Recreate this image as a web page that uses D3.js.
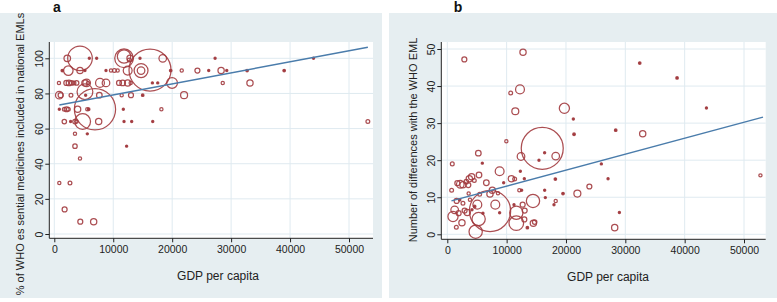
<!DOCTYPE html>
<html><head><meta charset="utf-8">
<script src="https://cdn.jsdelivr.net/npm/d3@7"></script>
<style>
body{margin:0;background:#fff;}
svg{display:block;font-family:"Liberation Sans",Arial,sans-serif;}
</style></head>
<body>
<svg id="chart" width="777" height="302"></svg>
<script>
// ---------- DATA ----------
const xTicks = [0, 10000, 20000, 30000, 40000, 50000];
const yTicksA = [0, 20, 40, 60, 80, 100];
const yTicksB = [0, 10, 20, 30, 40, 50];

// Panel a: GDP per capita, % of WHO EMs included, bubble weight
const gdpA = [2200,4360,5940,7190,11830,11830,12850,12730,14540,18400,27280,43980,
  1360,2380,4360,5200,8770,9620,10190,10750,12450,14720,14720,16240,19750,21620,24280,26200,28300,29260,32710,39000,
  790,2040,2490,2940,3340,3790,5200,5490,5720,7750,8770,10980,11600,12450,12960,16640,17550,19980,28580,33200,
  850,1070,2830,5320,7640,11430,13010,15000,22020,5200,
  850,1700,2090,2380,3960,5600,5830,6900,11710,18170,
  1700,2770,3510,3790,4810,7530,11830,13130,16700,53200,
  3510,5600,3510,12270,4360,850,2660,1750,4410,6680];
const pctA = [100,100,100,100,100,101,100,99,100,100,100,100,
  93,93,93,93,93,93,93,93,93,93,93,93.3,93,93,93,93,93,93,93,93,
  86,86,86,86,86,86,86,86,86,86,86,86,86,86,86,86,86,86,86,86,
  79,79,79,79,79,79,79,79,79,81,
  71,71,71,71,71,71,71,71,71,71,
  64,64,64,64,64,64,64,64,64,64,
  57,57,50,50,43,29,29,14,7,7];
const sizeA = [33,463,2,2,265,137,30,11,3,44,3,2,
  5,69,30,3,3,8,11,8,60,148,44,1350,5,8,19,2,30,2,5,5,
  8,19,24,15,11,15,30,44,8,60,44,19,24,30,8,2,2,89,8,30,
  44,19,11,3,24,8,19,5,37,190,
  3,11,19,11,30,8,5,1300,2,8,
  15,3,15,8,190,30,2,2,2,11,
  8,3,15,3,8,8,11,19,19,30];
const fitGdpA = [850, 53200];
const fitValA = [73.4, 106.3];

// Panel b: GDP per capita, number of differences with WHO EML, bubble weight
const gdpB = [2870,12760,32430,38720,43670,10680,12250,11460,19730,21240,21360,28380,32930,9950,16000,
  5230,12420,16400,18270,15450,840,5900,25960,8820,12310,27090,18210,52770,10790,11350,12980,
  5340,3710,4100,3200,4550,6580,1690,2190,2640,3540,23940,9500,12140,12530,16410,730,7590,8540,
  19500,21920,3600,5450,7190,16520,14440,8090,17980,18270,12700,11240,5060,7200,1240,1910,2920,
  3370,960,11630,13040,8820,29000,2470,5280,12980,11630,14500,14720,13490,1520,28210,4780,6010,
  2080,2640,3820,1570,4610,4160];
const diffB = [47.2,49.1,46.2,42.2,34.1,38.1,39.1,33.2,34.0,31.1,27.0,28.1,27.1,25.1,23.2,
  21.9,21.0,22.0,21.1,20.0,19.0,19.2,19.0,17.0,17.0,15.0,14.9,15.9,15.0,14.9,15.0,
  16.0,15.0,15.5,14.2,14.5,13.9,13.8,13.5,13.4,13.3,12.9,13.9,11.9,11.9,11.9,11.9,11.9,11.1,
  11.0,11.0,11.0,10.8,10.9,9.9,9.0,8.0,8.0,9.0,8.0,8.0,8.0,6.3,6.6,5.7,6.4,
  5.9,4.8,5.8,6.4,5.8,5.9,3.1,4.1,4.0,3.0,3.0,3.3,1.8,1.9,1.8,0.7,5.7,
  9.3,8.4,9.3,9.0,7.5,6.6];
const sizeB = [19,30,5,5,2,11,60,37,79,2,5,5,30,8,1350,
  24,44,3,44,2,11,3,2,60,2,3,5,8,30,11,2,
  24,30,30,15,11,24,19,44,30,19,19,2,8,3,2,11,30,8,
  5,37,8,11,30,2,135,60,3,8,19,3,60,1300,44,19,19,
  30,79,135,19,2,2,30,135,19,163,30,15,5,11,30,135,3,
  5,11,8,19,5,3];
const fitGdpB = [700, 53200];
const fitValB = [9.0, 31.6];

// ---------- DRAW ----------
const svg = d3.select("#chart");
const BG = "#e6eef1", GRID = "#dfeaf0", BUB = "#a23b3f", FIT = "#4a7cab";
const rScale = d3.scaleSqrt().domain([0, 1350]).range([0, 21]);

function panel(cfg) {
  const g = svg.append("g");
  g.append("rect").attr("x", cfg.bg[0]).attr("y", cfg.bg[1]).attr("width", cfg.bg[2]).attr("height", cfg.bg[3]).attr("fill", BG);
  const [pl, pt, pr, pb] = cfg.plot;
  g.append("rect").attr("x", pl).attr("y", pt).attr("width", pr - pl).attr("height", pb - pt).attr("fill", "#fff");
  const x = d3.scaleLinear().domain([0, 50000]).range(cfg.xr);
  const y = d3.scaleLinear().domain([0, cfg.yTicks[cfg.yTicks.length - 1]]).range(cfg.yr);
  // grid
  g.append("g").selectAll("line.v").data(xTicks).join("line")
    .attr("x1", d => x(d)).attr("x2", d => x(d)).attr("y1", pt).attr("y2", pb)
    .attr("stroke", GRID).attr("stroke-width", 1);
  g.append("g").selectAll("line.h").data(cfg.yTicks).join("line")
    .attr("x1", pl).attr("x2", pr).attr("y1", d => y(d)).attr("y2", d => y(d))
    .attr("stroke", GRID).attr("stroke-width", 1);
  // bubbles
  const pts = cfg.gdp.map((v, i) => ({gdp: v, val: cfg.val[i], w: cfg.size[i]}))
    .sort((a, b) => b.w - a.w);
  g.append("g").selectAll("circle").data(pts).join("circle")
    .attr("cx", d => x(d.gdp)).attr("cy", d => y(d.val))
    .attr("r", d => Math.max(1.1, rScale(d.w)))
    .attr("fill", d => rScale(d.w) < 1.6 ? BUB : "none")
    .attr("stroke", BUB).attr("stroke-width", 1.25).attr("stroke-opacity", 0.9);
  // fit line
  const line = d3.line().x(d => x(d[0])).y(d => y(d[1]));
  g.append("path").datum(cfg.fitX.map((v, i) => [v, cfg.fitY[i]]))
    .attr("d", line).attr("fill", "none").attr("stroke", FIT).attr("stroke-width", 1.4);
  // axes
  const ax = g.append("g").attr("transform", `translate(0,${pb})`)
    .call(d3.axisBottom(x).tickValues(xTicks).tickFormat(d3.format("d")).tickSize(4).tickSizeOuter(0).tickPadding(3));
  ax.select(".domain").remove();
  ax.selectAll("text").attr("font-size", 10.5).attr("fill", "#222").attr("font-family", "Liberation Sans, Arial, sans-serif");
  ax.selectAll("line").attr("stroke", "#222");
  const ay = g.append("g").attr("transform", `translate(${pl},0)`)
    .call(d3.axisLeft(y).tickValues(cfg.yTicks).tickSize(4).tickSizeOuter(0));
  ay.select(".domain").remove();
  ay.selectAll("line").attr("stroke", "#222");
  ay.selectAll("text").attr("font-size", 10.5).attr("fill", "#222").attr("font-family", "Liberation Sans, Arial, sans-serif")
    .attr("transform", "rotate(-90)").attr("x", 0).attr("y", -6).attr("dy", 0).style("text-anchor", "middle");
  g.append("line").attr("x1", pl).attr("x2", pl).attr("y1", pt).attr("y2", pb).attr("stroke", "#222");
  g.append("line").attr("x1", pl).attr("x2", pr).attr("y1", pb).attr("y2", pb).attr("stroke", "#222");
  // titles
  g.append("text").attr("x", cfg.xTitle[0]).attr("y", cfg.xTitle[1]).attr("text-anchor", "middle")
    .attr("font-size", 12).attr("fill", "#222").text("GDP per capita");
  g.append("text").attr("transform", `translate(${cfg.yTitle[0]},${cfg.yTitle[1]}) rotate(-90)`)
    .attr("text-anchor", "middle").attr("font-size", 11).attr("fill", "#222").text(cfg.yLabel);
  g.append("text").attr("x", cfg.letter[0]).attr("y", cfg.letter[1]).attr("text-anchor", "middle")
    .attr("font-size", 14).attr("font-weight", "bold").attr("fill", "#111").text(cfg.tag);
}

panel({
  bg: [0, 13, 382, 285], plot: [49.3, 42, 373, 238.3],
  xr: [54.3, 349], yr: [234, 58.3], yTicks: yTicksA,
  gdp: gdpA, val: pctA, size: sizeA, fitX: fitGdpA, fitY: fitValA,
  xTitle: [218, 280], yTitle: [24, 154],
  yLabel: "% of WHO es sential medicines included in national EMLs",
  letter: [57, 12], tag: "a"
});
panel({
  bg: [389, 13, 388, 285], plot: [441.3, 42, 765.7, 239.3],
  xr: [447.3, 744], yr: [234.3, 49], yTicks: yTicksB,
  gdp: gdpB, val: diffB, size: sizeB, fitX: fitGdpB, fitY: fitValB,
  xTitle: [608, 281], yTitle: [417, 140],
  yLabel: "Number of differences with the WHO EML",
  letter: [458, 12], tag: "b"
});
</script>
</body></html>
